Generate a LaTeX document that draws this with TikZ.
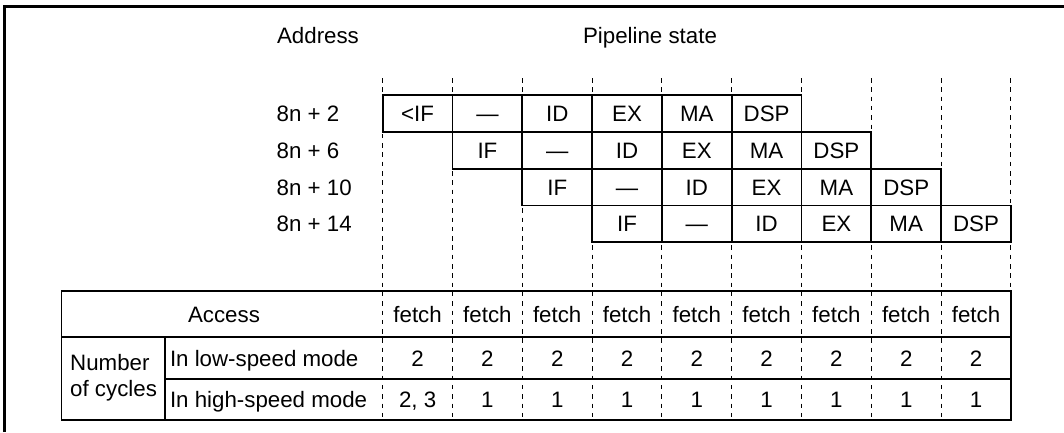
\documentclass[tikz,border=0pt]{standalone}
\usepackage{fontspec}
\setmainfont{Liberation Sans}
\begin{document}
\begin{tikzpicture}[x=1pt,y=-1pt,
  font=\fontsize{22.3}{26.7}\selectfont,
  txt/.style={inner sep=0pt, outer sep=0pt, text height=16pt, text depth=0pt},
  cell/.style={txt, draw, line width=1.8pt, minimum width=69.8pt, minimum height=36.8pt},
  gridline/.style={dash pattern=on 4.5pt off 4.8pt, line width=1pt},
  rule/.style={line width=1.6pt},
  frame/.style={line width=2.8pt}]
\useasboundingbox (0,0) rectangle (1064,432);
% frame (top and left visible)
\coordinate (fb) at (4.5,432);
\coordinate (fc) at (4.5,6.7);
\coordinate (fr) at (1064,6.7);
\draw[frame] (fb) -- (fc) -- (fr);
% headings
\node[inner sep=0pt, anchor=base] (addr) at (318,43) {Address};
\node[inner sep=0pt, anchor=base] (pipe) at (650,43) {Pipeline state};
% dashed column lines
\foreach \k in {0,...,9}{
  \coordinate (gt\k) at (382.7+69.8*\k,78);
  \coordinate (gb\k) at (382.7+69.8*\k,420);
  \draw[gridline] (gt\k) -- (gb\k);
}
% address labels
\node[txt, anchor=west] (ad1) at (276.7,113.4) {8n + 2};
\node[txt, anchor=west] (ad2) at (276.7,150.2) {8n + 6};
\node[txt, anchor=west] (ad3) at (276.7,187.0) {8n + 10};
\node[txt, anchor=west] (ad4) at (276.7,223.8) {8n + 14};
% pipeline cells
\foreach \t [count=\i from 0] in {<IF,—,ID,EX,MA,DSP}
  \node[cell] (ra\i) at (417.6+69.8*\i,113.4) {\t};
\foreach \t [count=\i from 1] in {IF,—,ID,EX,MA,DSP}
  \node[cell] (rb\i) at (417.6+69.8*\i,150.2) {\t};
\foreach \t [count=\i from 2] in {IF,—,ID,EX,MA,DSP}
  \node[cell] (rc\i) at (417.6+69.8*\i,187.0) {\t};
\foreach \t [count=\i from 3] in {IF,—,ID,EX,MA,DSP}
  \node[cell] (rd\i) at (417.6+69.8*\i,223.8) {\t};
% bottom table
\coordinate (tl) at (61.5,291);
\coordinate (br) at (1011,420);
\coordinate (h1l) at (61.5,336.7);
\coordinate (h1r) at (1011,336.7);
\coordinate (h2l) at (165,379);
\coordinate (h2r) at (1011,379);
\coordinate (vt) at (165,336.7);
\coordinate (vb) at (165,420);
\draw[rule] (tl) rectangle (br);
\draw[rule] (h1l) -- (h1r);
\draw[rule] (h2l) -- (h2r);
\draw[rule] (vt) -- (vb);
\node[txt] (access) at (224,314) {Access};
\node[inner sep=0pt, anchor=base west] (num1) at (70,370) {Number};
\node[inner sep=0pt, anchor=base west] (num2) at (70,396.7) {of cycles};
\node[txt, anchor=west] (low) at (170,358) {In low-speed mode};
\node[txt, anchor=west] (high) at (170,399.5) {In high-speed mode};
\foreach \i in {0,...,8}{
  \node[txt] (f\i) at (417.6+69.8*\i,314) {fetch};
  \node[txt] (l\i) at (417.6+69.8*\i,358) {2};
}
\node[txt] (h0) at (417.6,399.5) {2, 3};
\foreach \i in {1,...,8}
  \node[txt] (h\i) at (417.6+69.8*\i,399.5) {1};
\end{tikzpicture}
\end{document}
